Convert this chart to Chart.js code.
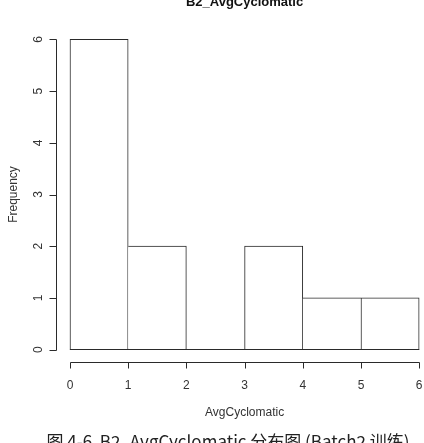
<!DOCTYPE html>
<html>
<head>
<meta charset="utf-8">
<script src="https://cdn.jsdelivr.net/npm/chart.js@4.4.0/dist/chart.umd.min.js"></script>
<style>
  html, body { margin: 0; padding: 0; background: #fff; overflow: hidden; }
  #histo { display: block; }
</style>
</head>
<body>
<canvas id="histo" width="424" height="443"></canvas>
<script>
// histogram data
var binStarts = [0, 1, 2, 3, 4, 5];
var binWidth = 1;
var frequencies = [6, 2, 0, 2, 1, 1];
var xTickLabels = [0, 1, 2, 3, 4, 5, 6];
var yTickLabels = [0, 1, 2, 3, 4, 5, 6];
var chartTitle = "B2_AvgCyclomatic";
var xTitle = "AvgCyclomatic";
var yTitle = "Frequency";
var caption = "图 4-6  B2_AvgCyclomatic 分布图 (Batch2 训练)";

var points = binStarts.map(function (s, i) {
    return { x: s + binWidth / 2, y: frequencies[i] };
});

// the taller neighbour draws the shared edge, so lines stay 1px
function edgeWidths(ctx) {
    var i = ctx.dataIndex;
    var v = frequencies[i];
    var prev = i > 0 ? frequencies[i - 1] : -1;
    var next = i < frequencies.length - 1 ? frequencies[i + 1] : -1;
    return {
        top: 1,
        bottom: 1,
        left: prev <= v ? 1 : 0,
        right: next < v ? 1 : 0
    };
}

var lineColor = '#2a2a2a';
var textColor = '#333';

// R style detached axes, drawn from the chart's own scales
var rAxes = {
    id: 'rAxes',
    afterDraw: function (chart) {
        var c = chart.ctx, xs = chart.scales.x, ys = chart.scales.y, area = chart.chartArea;
        var x0 = xs.getPixelForValue(xTickLabels[0]);
        var x1 = xs.getPixelForValue(xTickLabels[xTickLabels.length - 1]);
        var y0 = ys.getPixelForValue(yTickLabels[0]);
        var y1 = ys.getPixelForValue(yTickLabels[yTickLabels.length - 1]);
        var axX = Math.round(area.left) + 0.5;
        var axY = Math.round(area.bottom) + 0.5;
        c.save();
        c.strokeStyle = lineColor;
        c.lineWidth = 1;

        // baseline under the empty bin
        c.beginPath();
        c.moveTo(x0, Math.round(y0) - 0.5);
        c.lineTo(x1, Math.round(y0) - 0.5);
        c.stroke();

        // x axis
        c.beginPath();
        c.moveTo(Math.round(x0) + 0.5, axY);
        c.lineTo(Math.round(x1) + 0.5, axY);
        xTickLabels.forEach(function (t) {
            var px = Math.round(xs.getPixelForValue(t)) + 0.5;
            c.moveTo(px, axY);
            c.lineTo(px, axY + 6);
        });
        c.stroke();

        // y axis
        c.beginPath();
        c.moveTo(axX, Math.round(y0) + 0.5);
        c.lineTo(axX, Math.round(y1) + 0.5);
        yTickLabels.forEach(function (t) {
            var py = Math.round(ys.getPixelForValue(t)) + 0.5;
            c.moveTo(axX, py);
            c.lineTo(axX - 7, py);
        });
        c.stroke();

        c.fillStyle = textColor;
        c.font = '12px "Liberation Sans", Arial, sans-serif';
        c.textAlign = 'center';
        c.textBaseline = 'alphabetic';
        xTickLabels.forEach(function (t) {
            c.fillText(String(t), xs.getPixelForValue(t), 389);
        });
        yTickLabels.forEach(function (t) {
            c.save();
            c.translate(42, ys.getPixelForValue(t));
            c.rotate(-Math.PI / 2);
            c.fillText(String(t), 0, 0);
            c.restore();
        });

        // axis titles, centred on R's full plot region
        var midX = (area.left + xs.getPixelForValue(6.24)) / 2;
        c.fillText(xTitle, midX, 416);
        c.save();
        c.translate(17, (area.top + area.bottom) / 2);
        c.rotate(-Math.PI / 2);
        c.fillText(yTitle, 0, 0);
        c.restore();

        c.fillStyle = '#111';
        c.font = 'bold 13px "Liberation Sans", Arial, sans-serif';
        c.fillText(chartTitle, midX, 6);

        // figure caption, cut by the bottom edge
        c.fillStyle = '#222';
        c.font = '17px "Noto Sans CJK SC", sans-serif';
        c.textBaseline = 'top';
        c.fillText(caption, 228, 433);
        c.restore();
    }
};

var histCanvas = document.getElementById("histo");
new Chart(histCanvas, {
    type: 'bar',
    plugins: [rAxes],
    data: {
        datasets: [
            {
                data: points,
                backgroundColor: '#ffffff',
                borderColor: lineColor,
                borderWidth: edgeWidths,
                borderSkipped: false,
                barPercentage: 1,
                categoryPercentage: 1
            }
        ]
    },
    options: {
        responsive: false,
        animation: false,
        layout: {
            padding: { left: 56, top: 27, right: 0, bottom: 81 }
        },
        scales: {
            x: {
                type: 'linear',
                display: false,
                offset: false,
                min: -0.24,
                max: 6.083,
                ticks: { stepSize: 1, includeBounds: false }
            },
            y: {
                display: false,
                min: -0.24,
                max: 6.24
            }
        },
        plugins: {
            legend: { display: false },
            tooltip: { enabled: false },
            title: { display: false }
        }
    }
});
</script>
</body>
</html>
